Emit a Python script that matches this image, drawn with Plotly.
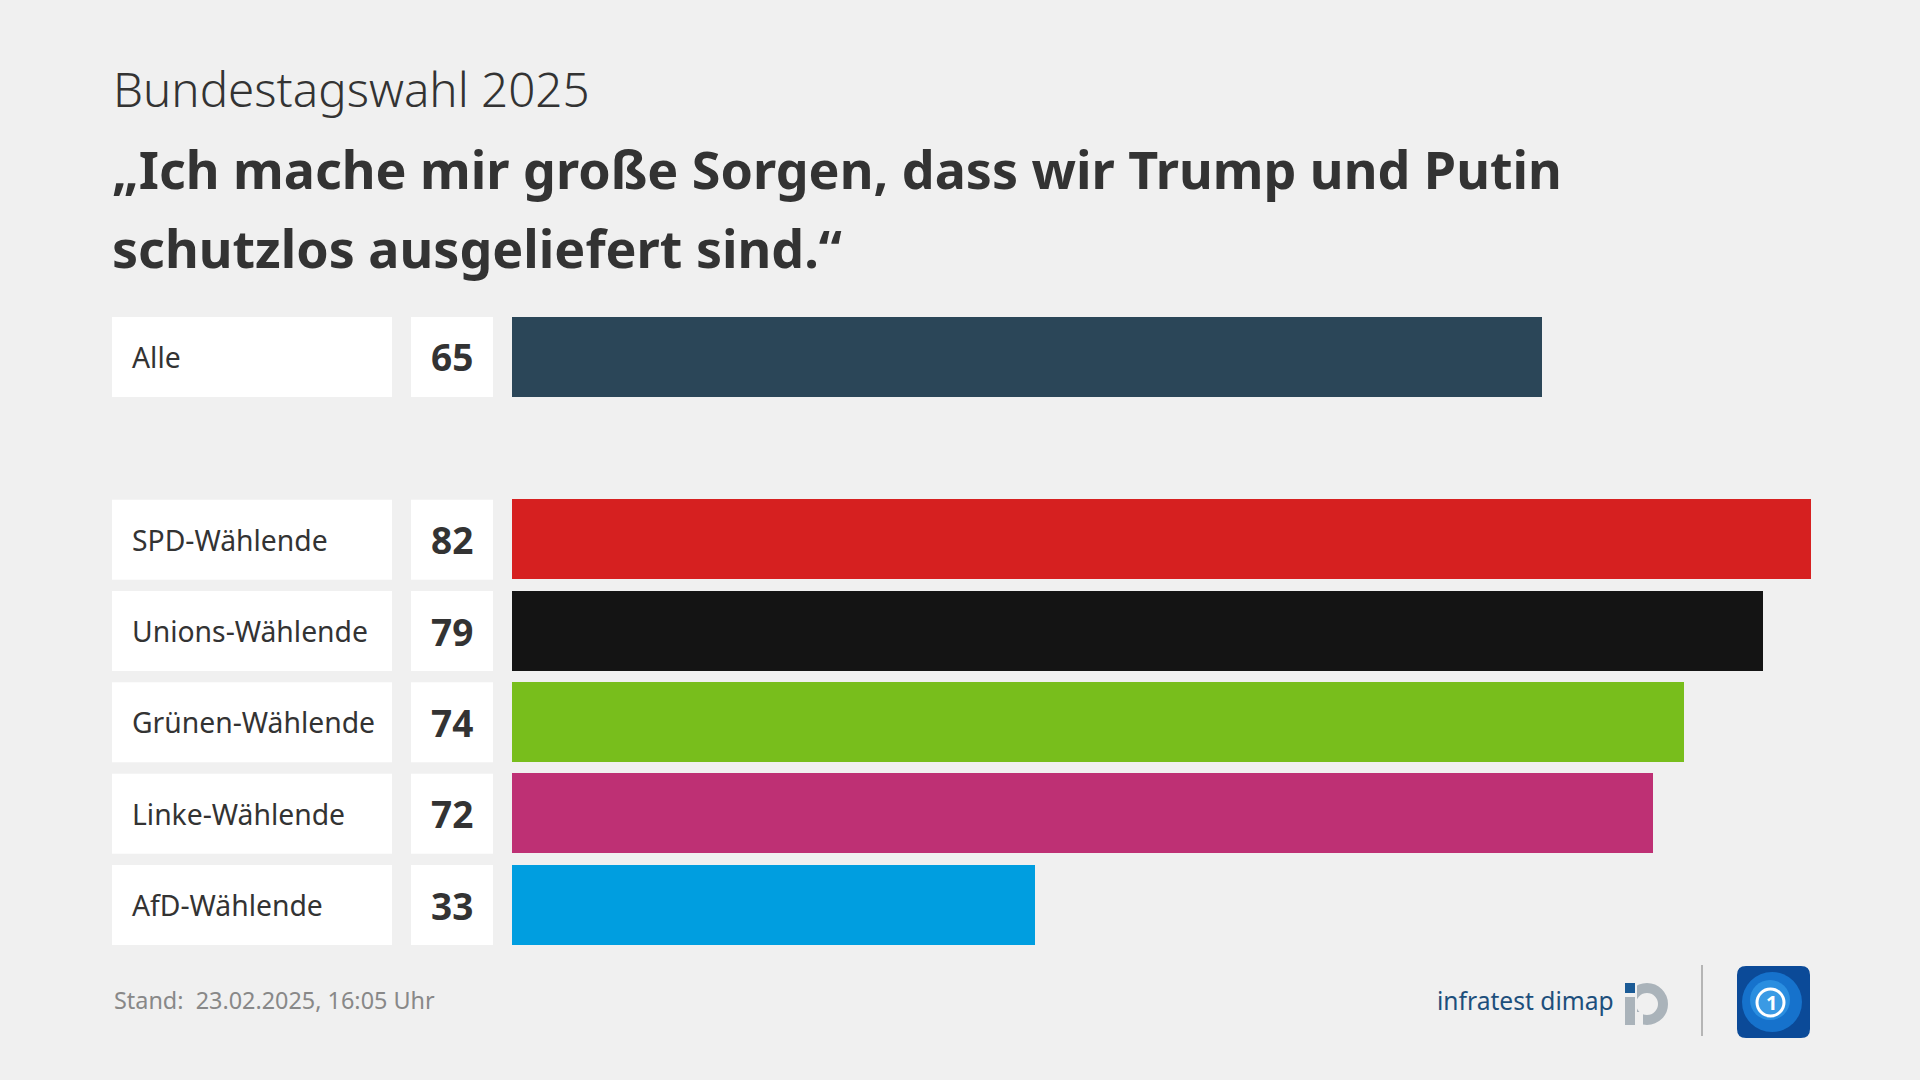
import plotly.graph_objects as go

# ---- data ----
groups = ["Alle", "SPD-Wählende", "Unions-Wählende", "Grünen-Wählende", "Linke-Wählende", "AfD-Wählende"]
values = [65, 82, 79, 74, 72, 33]
colors = ["#2b4658", "#d62020", "#141414", "#78be1c", "#be3074", "#009ee0"]
kicker = "Bundestagswahl 2025"
title_lines = ["„Ich mache mir große Sorgen, dass wir Trump und Putin", "schutzlos ausgeliefert sind.“"]
footer = "Stand:  23.02.2025, 16:05 Uhr"

W, H = 1920, 1080
BG = "#f0f0f0"
TXT = "#333333"
FONT = "Noto Sans"

def px(x):
    return x / W

def py(y):
    return 1 - y / H

# row positions: "Alle" first, then a blank slot, then the party groups
positions = [0] + [i + 1 for i in range(1, len(groups))]
bar_w = 0.876

fig = go.Figure()
fig.add_trace(go.Bar(
    x=values, y=positions, orientation="h",
    marker=dict(color=colors, line=dict(width=0)),
    width=bar_w, hoverinfo="skip",
))

shapes = []
annotations = []
for lab, val, pos in zip(groups, values, positions):
    shapes.append(dict(type="rect", xref="paper", yref="y", x0=px(112), x1=px(392),
                       y0=pos - bar_w / 2, y1=pos + bar_w / 2, fillcolor="white", line=dict(width=0), layer="below"))
    shapes.append(dict(type="rect", xref="paper", yref="y", x0=px(411), x1=px(493),
                       y0=pos - bar_w / 2, y1=pos + bar_w / 2, fillcolor="white", line=dict(width=0), layer="below"))
    annotations.append(dict(text=lab, xref="paper", yref="y", x=px(130), y=pos, xanchor="left", yanchor="middle",
                            showarrow=False, font=dict(family=FONT, size=28.3, color=TXT)))
    annotations.append(dict(text=f"<b>{val}</b>", xref="paper", yref="y", x=px(452), y=pos, xanchor="center",
                            yanchor="middle", showarrow=False, font=dict(family=FONT, size=37, color=TXT)))

# headings
annotations.append(dict(text=kicker, xref="paper", yref="paper", x=px(111), y=py(88), xanchor="left",
                        yanchor="middle", showarrow=False, font=dict(family=FONT, size=47.5, color=TXT, weight=300)))
for i, line in enumerate(title_lines):
    annotations.append(dict(text=f"<b>{line}</b>", xref="paper", yref="paper", x=px(110), y=py(168 + 79 * i),
                            xanchor="left", yanchor="middle", showarrow=False,
                            font=dict(family=FONT, size=52, color=TXT)))
# footer
annotations.append(dict(text=footer, xref="paper", yref="paper", x=px(112), y=py(1000), xanchor="left",
                        yanchor="middle", showarrow=False, font=dict(family=FONT, size=23.4, color="#888888")))
annotations.append(dict(text="infratest dimap", xref="paper", yref="paper", x=px(1435), y=py(1000), xanchor="left",
                        yanchor="middle", showarrow=False, font=dict(family=FONT, size=24.6, color="#1d4f7c")))

# infratest dimap icon (approximation)
GR = "#aab3ba"
shapes.append(dict(type="circle", xref="paper", yref="paper", x0=px(1631), x1=px(1663), y0=py(1020), y1=py(988),
                   line=dict(color=GR, width=10), fillcolor="rgba(0,0,0,0)"))
shapes.append(dict(type="rect", xref="paper", yref="paper", x0=px(1620), x1=px(1637), y0=py(1030), y1=py(978),
                   fillcolor=BG, line=dict(width=0)))
shapes.append(dict(type="rect", xref="paper", yref="paper", x0=px(1637), x1=px(1643), y0=py(1030), y1=py(1012),
                   fillcolor=BG, line=dict(width=0)))
shapes.append(dict(type="rect", xref="paper", yref="paper", x0=px(1625), x1=px(1635), y0=py(1025), y1=py(997),
                   fillcolor=GR, line=dict(width=0)))
shapes.append(dict(type="rect", xref="paper", yref="paper", x0=px(1625), x1=px(1635), y0=py(993), y1=py(983),
                   fillcolor="#1b5b96", line=dict(width=0)))
# separator
shapes.append(dict(type="line", xref="paper", yref="paper", x0=px(1702), x1=px(1702), y0=py(965), y1=py(1036),
                   line=dict(color="#b5b5b5", width=2)))

# tagesschau icon (approximation)
def rrect(x0, y0, x1, y1, r):
    return (f"M {px(x0 + r)},{py(y0)} L {px(x1 - r)},{py(y0)} Q {px(x1)},{py(y0)} {px(x1)},{py(y0 + r)} "
            f"L {px(x1)},{py(y1 - r)} Q {px(x1)},{py(y1)} {px(x1 - r)},{py(y1)} "
            f"L {px(x0 + r)},{py(y1)} Q {px(x0)},{py(y1)} {px(x0)},{py(y1 - r)} "
            f"L {px(x0)},{py(y0 + r)} Q {px(x0)},{py(y0)} {px(x0 + r)},{py(y0)} Z")

shapes.append(dict(type="path", xref="paper", yref="paper", path=rrect(1737, 966, 1810, 1038, 9),
                   fillcolor="#0b4a98", line=dict(width=0)))
shapes.append(dict(type="circle", xref="paper", yref="paper", x0=px(1742), x1=px(1802), y0=py(1032), y1=py(972),
                   fillcolor="#1672cc", line=dict(width=0)))
shapes.append(dict(type="circle", xref="paper", yref="paper", x0=px(1750), x1=px(1790), y0=py(1020), y1=py(980),
                   fillcolor="#2a8ee0", line=dict(width=0)))
shapes.append(dict(type="circle", xref="paper", yref="paper", x0=px(1757), x1=px(1784), y0=py(1016), y1=py(989),
                   fillcolor="#3a9ae4", line=dict(color="white", width=3)))
annotations.append(dict(text="<b>1</b>", xref="paper", yref="paper", x=px(1771), y=py(1002), xanchor="center",
                        yanchor="middle", showarrow=False, font=dict(family=FONT, size=20, color="white")))

fig.update_layout(
    width=W, height=H,
    margin=dict(l=0, r=0, t=0, b=0),
    paper_bgcolor=BG, plot_bgcolor=BG,
    showlegend=False,
    xaxis=dict(domain=[px(512), 1], range=[0, 1408 / (1299 / 82)], visible=False, fixedrange=True),
    yaxis=dict(domain=[py(950.7), py(311.3)], range=[6.5, -0.5], visible=False, fixedrange=True),
    shapes=shapes, annotations=annotations,
    bargap=0,
)

fig.write_html("out.html", config={"displayModeBar": False},
               post_script="document.body.style.margin='0';document.body.style.padding='0';")
